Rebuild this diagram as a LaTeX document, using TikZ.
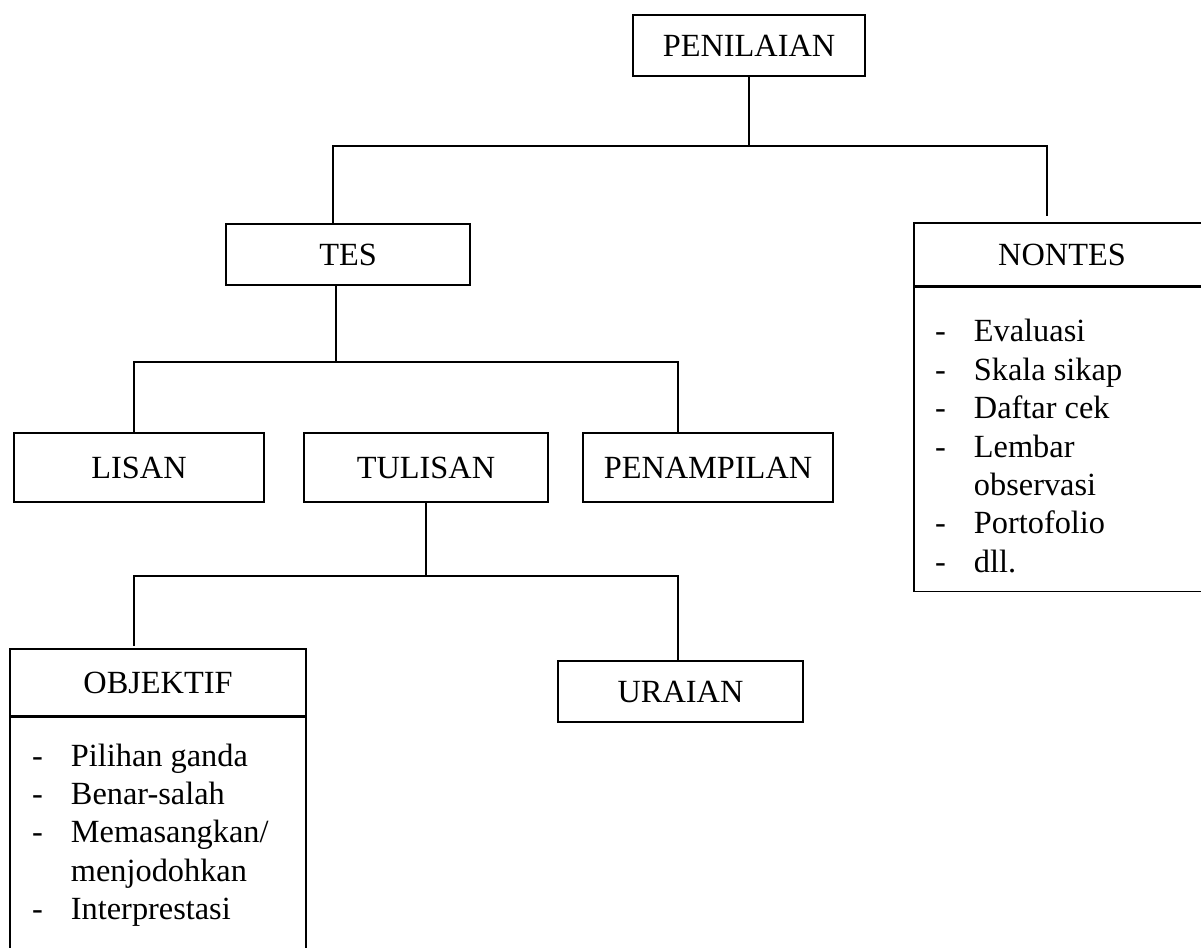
\documentclass[tikz,border=0pt]{standalone}
\usepackage{fontspec}
\setmainfont{Liberation Serif}
\usetikzlibrary{calc}
\newcommand\satuan{0.025cm}
\newcommand\butir[1]{\makebox[27.7pt][l]{-}#1}
\tikzset{
  kotak/.style={draw,rectangle,inner sep=0pt,line width=1.1pt},
  daftar/.style={inner sep=0pt,align=left,anchor=north west}
}
\begin{document}
\begin{tikzpicture}[x=\satuan,y=-\satuan,line width=1.1pt,font=\fontsize{23}{27.3}\selectfont]
\useasboundingbox (0,0) rectangle (1201,947);
%
\node[kotak,minimum width=232*\satuan,minimum height=61*\satuan] (pen) at (749,45.5) {PENILAIAN};
\node[kotak,minimum width=244*\satuan,minimum height=61*\satuan] (tes) at (348,254.5) {TES};
\node[kotak,minimum width=296*\satuan,minimum height=63*\satuan] (nontes) at (1062,254.5) {NONTES};
\node[kotak,minimum width=296*\satuan,minimum height=304*\satuan,anchor=north] (nontesisi) at (nontes.south) {};
\node[daftar] (nontesdaftar) at ($(nontesisi.north west)+(21,32)$) {\butir{Evaluasi}\\ \butir{Skala sikap}\\ \butir{Daftar cek}\\ \butir{Lembar}\\ \hspace*{27.7pt}observasi\\ \butir{Portofolio}\\ \butir{dll.}};
%
\node[kotak,minimum width=250*\satuan,minimum height=69*\satuan] (lisan) at (139,467.5) {LISAN};
\node[kotak,minimum width=244*\satuan,minimum height=69*\satuan] (tulisan) at (426,467.5) {TULISAN};
\node[kotak,minimum width=250*\satuan,minimum height=69*\satuan] (tampil) at (708,467.5) {PENAMPILAN};
%
\node[kotak,minimum width=296*\satuan,minimum height=67*\satuan] (objektif) at (158,682.5) {OBJEKTIF};
\node[kotak,minimum width=296*\satuan,minimum height=280*\satuan,anchor=north] (objektifisi) at (objektif.south) {};
\node[daftar] (objektifdaftar) at ($(objektifisi.north west)+(22,26)$) {\butir{Pilihan ganda}\\ \butir{Benar-salah}\\ \butir{Memasangkan/}\\ \hspace*{27.7pt}menjodohkan\\ \butir{Interprestasi}};
\node[kotak,minimum width=245*\satuan,minimum height=61*\satuan] (uraian) at (680.5,691.5) {URAIAN};
%
\coordinate (cabang1) at (749,146);
\coordinate (cabang2) at (336,362);
\coordinate (cabang3) at (426,576);
\draw (pen) -- (cabang1);
\draw (cabang1) -| ($(tes.north)+(-15,0)$);
\draw (cabang1) -| ($(nontes.north)+(-15,-6)$);
\draw ($(tes.south)+(-12,0)$) -- (cabang2);
\draw (cabang2) -| ($(lisan.north)+(-5,0)$);
\draw (cabang2) -| ($(tampil.north)+(-30,0)$);
\draw (tulisan) -- (cabang3);
\draw (cabang3) -| ($(objektif.north)+(-24,-2)$);
\draw (cabang3) -| ($(uraian.north)+(-2.5,0)$);
\end{tikzpicture}
\end{document}
